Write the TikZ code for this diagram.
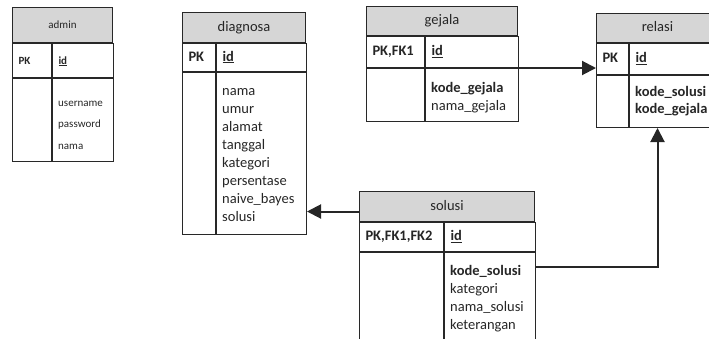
\documentclass[tikz,border=0pt]{standalone}
\usepackage{fontspec}
\setmainfont{Carlito}
\usetikzlibrary{arrows.meta,positioning}
\definecolor{headgray}{RGB}{214,214,214}
\definecolor{linegray}{RGB}{40,40,40}
\newcommand{\pkey}[1]{\underline{\textbf{#1}}}

\begin{document}
\begin{tikzpicture}[x=1pt, y=-1pt,
  tbl/.style={draw=linegray, line width=1pt, anchor=north west, inner xsep=6pt, inner ysep=0pt,
    text=black!85, font=\fontsize{14.5}{18}\selectfont},
  head/.style={tbl, fill=headgray, align=center, text height=10pt, text depth=3pt},
  cell/.style={tbl, align=left, text height=10pt, text depth=3pt},
  fld/.style={anchor=north west, inner sep=0pt, align=left, text=black!85,
    font=\fontsize{14.5}{18}\selectfont, execute at begin node=\strut},
  small/.style={font=\fontsize{11}{21.5}\selectfont},
  rel/.style={-{Triangle[length=14pt,width=14pt]}, line width=2pt, draw=black!85}
]
\useasboundingbox (0,0) rectangle (709,338);
\clip (0,0) rectangle (709,338);

% admin
\node[head, small, minimum width=100pt, minimum height=35pt] (admH) at (12,7) {admin};
\node[cell, small, text width=27pt, minimum height=34pt, below right=0pt and 0pt of admH.south west] (admPK) {\textbf{PK}};
\node[cell, small, text width=49pt, minimum height=34pt, below right=0pt and 0pt of admPK.north east] (admID) {\pkey{id}};
\node[cell, text width=27pt, minimum height=83pt, below right=0pt and 0pt of admPK.south west] (admK) {};
\node[cell, text width=49pt, minimum height=83pt, below right=0pt and 0pt of admK.north east] (admB) {};
\node[fld, small, below right=22.5pt and 6pt of admB.north west] (admT) {username\\password\\nama};

% diagnosa
\node[head, minimum width=123pt, minimum height=30pt] (diagH) at (182,12) {diagnosa};
\node[cell, text width=21pt, minimum height=28pt, below right=0pt and 0pt of diagH.south west] (diagPK) {\textbf{PK}};
\node[cell, text width=78pt, minimum height=28pt, below right=0pt and 0pt of diagPK.north east] (diagID) {\pkey{id}};
\node[cell, text width=21pt, minimum height=162pt, below right=0pt and 0pt of diagPK.south west] (diagK) {};
\node[cell, text width=78pt, minimum height=162pt, below right=0pt and 0pt of diagK.north east] (diagB) {};
\node[fld, below right=16.5pt and 6pt of diagB.north west] (diagT)
  {nama\\umur\\alamat\\tanggal\\kategori\\persentase\\naive\_bayes\\solusi};

% gejala
\node[head, minimum width=151pt, minimum height=29pt] (gejH) at (366,6) {gejala};
\node[cell, text width=46pt, minimum height=31pt, below right=0pt and 0pt of gejH.south west] (gejPK) {\textbf{PK,FK1}};
\node[cell, text width=81pt, minimum height=31pt, below right=0pt and 0pt of gejPK.north east] (gejP) {\pkey{id}};
\node[cell, text width=46pt, minimum height=53pt, below right=0pt and 0pt of gejPK.south west] (gejK) {};
\node[cell, text width=81pt, minimum height=53pt, below right=0pt and 0pt of gejK.north east] (gejB) {};
\node[fld, below right=14pt and 6pt of gejB.north west] (gejT) {\textbf{kode\_gejala}\\nama\_gejala};

% relasi
\node[head, minimum width=122pt, minimum height=29pt] (relH) at (596,13) {relasi};
\node[cell, text width=20pt, minimum height=31pt, below right=0pt and 0pt of relH.south west] (relPK) {\textbf{PK}};
\node[cell, text width=78pt, minimum height=31pt, below right=0pt and 0pt of relPK.north east] (relID) {\pkey{id}};
\node[cell, text width=20pt, minimum height=52pt, below right=0pt and 0pt of relPK.south west] (relK) {};
\node[cell, text width=78pt, minimum height=52pt, below right=0pt and 0pt of relK.north east] (relB) {};
\node[fld, below right=11pt and 6pt of relB.north west] (relT) {\textbf{kode\_solusi}\\[-0.7pt]\textbf{kode\_gejala}};

% solusi
\node[head, minimum width=175pt, minimum height=30pt] (solH) at (359,191) {solusi};
\node[cell, text width=72pt, minimum height=29pt, below right=0pt and 0pt of solH.south west] (solPK) {\textbf{PK,FK1,FK2}};
\node[cell, text width=79pt, minimum height=29pt, below right=0pt and 0pt of solPK.north east] (solID) {\pkey{id}};
\node[cell, text width=72pt, minimum height=95pt, below right=0pt and 0pt of solPK.south west] (solK) {};
\node[cell, text width=79pt, minimum height=95pt, below right=0pt and 0pt of solK.north east] (solB) {};
\node[fld, below right=13pt and 6pt of solB.north west] (solT)
  {\textbf{kode\_solusi}\\kategori\\nama\_solusi\\keterangan};

% relations
\coordinate (solIn) at ([yshift=-5pt]solH.west);
\coordinate (solOut) at ([yshift=-15pt]solB.north east);
\draw[rel] (solIn) -- (solIn -| diagB.east);
\draw[rel] (gejP.south east) -- (gejP.south east -| relH.west);
\draw[rel] (solOut) -| (relH.south |- relB.south);
\end{tikzpicture}
\end{document}
